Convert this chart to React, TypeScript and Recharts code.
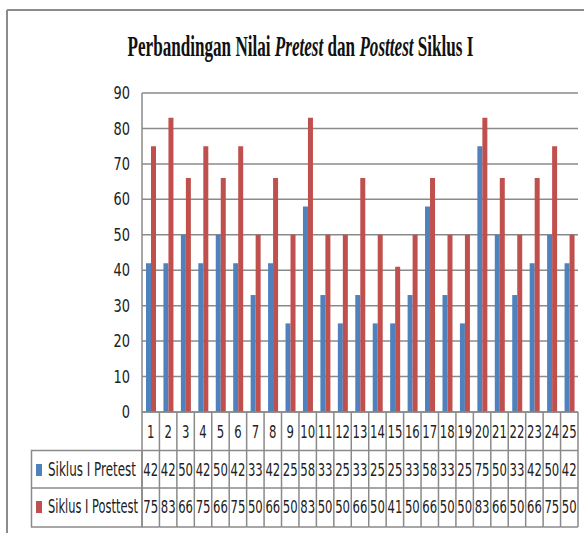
import * as React from "react";
import { BarChart, Bar, XAxis, YAxis, CartesianGrid } from "recharts";

// ----- Data -----
const categories: string[] = [
  "1", "2", "3", "4", "5", "6", "7", "8", "9", "10", "11", "12", "13",
  "14", "15", "16", "17", "18", "19", "20", "21", "22", "23", "24", "25",
];
const pretest: number[] = [42, 42, 50, 42, 50, 42, 33, 42, 25, 58, 33, 25, 33, 25, 25, 33, 58, 33, 25, 75, 50, 33, 42, 50, 42];
const posttest: number[] = [75, 83, 66, 75, 66, 75, 50, 66, 50, 83, 50, 50, 66, 50, 41, 50, 66, 50, 50, 83, 66, 50, 66, 75, 50];
const yTicks: number[] = [0, 10, 20, 30, 40, 50, 60, 70, 80, 90];
const seriesNames: string[] = ["Siklus I Pretest", "Siklus I Posttest"];

const chartData = categories.map((c, i) => ({ name: c, pretest: pretest[i], posttest: posttest[i] }));

// ----- Layout -----
const W = 584;
const H = 533;
const PLOT_LEFT = 142;
const PLOT_RIGHT = 578;
const PLOT_TOP = 93;
const PLOT_BOTTOM = 412;
const BAND = (PLOT_RIGHT - PLOT_LEFT) / categories.length;
const GRID = "#8a8a8a";
const FONT = "'Liberation Sans Narrow', 'DejaVu Sans Condensed', sans-serif";
const BLUE = "#4f81bd";
const RED = "#c0504d";

// table rows relative to the axis line
const ROW_LINES = [38.5, 76, 115];
const ROW_TEXT = [20, 58, 95];

// narrow, tall text like the original's Calibri
function NarrowText({ x, y, sx, anchor, size, children }: any) {
  return (
    <text
      transform={`translate(${x},${y}) scale(${sx},1)`}
      x={0}
      y={0}
      textAnchor={anchor}
      dominantBaseline="central"
      fontFamily={FONT}
      fontSize={size}
      fill="#222"
    >
      {children}
    </text>
  );
}

function YTick(props: any) {
  const { x, y, payload } = props;
  return (
    <NarrowText x={x} y={y} sx={0.8} anchor="end" size={18}>
      {payload.value}
    </NarrowText>
  );
}

function TableTick(props: any) {
  const { x, y, payload } = props;
  const i: number = payload?.index ?? props.index ?? 0;
  const l = x - BAND / 2;
  const r = x + BAND / 2;
  const vals = [categories[i], String(pretest[i]), String(posttest[i])];
  return (
    <g>
      {i === 0 && <line x1={l} x2={l} y1={y} y2={y + ROW_LINES[2]} stroke={GRID} strokeWidth={1.5} />}
      <line x1={r} x2={r} y1={y} y2={y + ROW_LINES[2]} stroke={GRID} strokeWidth={1.5} />
      {ROW_LINES.map((d) => (
        <line key={d} x1={l} x2={r} y1={y + d} y2={y + d} stroke={GRID} strokeWidth={1.5} />
      ))}
      {vals.map((v, k) => (
        <NarrowText key={k} x={x} y={y + ROW_TEXT[k]} sx={0.72} anchor="middle" size={18}>
          {v}
        </NarrowText>
      ))}
    </g>
  );
}

export default function App() {
  const labelTop = PLOT_BOTTOM + ROW_LINES[0];
  return (
    <div style={{ position: "absolute", left: 0, top: 0, width: W, height: H, background: "#fff" }}>
      <BarChart
        width={W}
        height={H}
        data={chartData}
        margin={{ top: PLOT_TOP, right: W - PLOT_RIGHT, left: PLOT_LEFT - 40, bottom: 0 }}
        barGap={0}
      >
        <CartesianGrid vertical={false} stroke={GRID} strokeWidth={1.5} />
        <XAxis
          dataKey="name"
          interval={0}
          height={H - PLOT_BOTTOM}
          tickLine={false}
          tickSize={0}
          tickMargin={0}
          axisLine={{ stroke: GRID, strokeWidth: 1.5 }}
          tick={<TableTick />}
        />
        <YAxis
          width={40}
          domain={[0, 90]}
          ticks={yTicks}
          tickLine={false}
          tickSize={0}
          tickMargin={12}
          axisLine={{ stroke: GRID, strokeWidth: 1.5 }}
          tick={<YTick />}
        />
        <Bar dataKey="pretest" name={seriesNames[0]} fill={BLUE} barSize={5} isAnimationActive={false} />
        <Bar dataKey="posttest" name={seriesNames[1]} fill={RED} barSize={5} isAnimationActive={false} />
      </BarChart>

      <svg width={W} height={H} style={{ position: "absolute", left: 0, top: 0, pointerEvents: "none" }}>
        {/* frame */}
        <line x1={7} x2={W} y1={10} y2={10} stroke="#8c8c8c" strokeWidth={2} />
        <line x1={7} x2={7} y1={10} y2={H} stroke="#8c8c8c" strokeWidth={2} />
        {/* title */}
        <text
          transform="translate(300.5,56) scale(0.59,1)"
          x={0}
          y={0}
          textAnchor="middle"
          fontFamily="'Liberation Serif', serif"
          fontWeight="bold"
          fontSize={29}
          fill="#111"
        >
          Perbandingan Nilai <tspan fontStyle="italic">Pretest</tspan> dan <tspan fontStyle="italic">Posttest</tspan> Siklus I
        </text>
        {/* legend column of the data table */}
        <rect x={31.5} y={labelTop} width={PLOT_LEFT - 31.5} height={ROW_LINES[2] - ROW_LINES[0]} fill="none" stroke={GRID} strokeWidth={1.5} />
        <line x1={31.5} x2={PLOT_LEFT} y1={PLOT_BOTTOM + ROW_LINES[1]} y2={PLOT_BOTTOM + ROW_LINES[1]} stroke={GRID} strokeWidth={1.5} />
        {seriesNames.map((n, k) => {
          const cy = PLOT_BOTTOM + ROW_TEXT[k + 1];
          return (
            <g key={n}>
              <rect x={36} y={cy - 6} width={6} height={12} fill={k === 0 ? BLUE : RED} />
              <NarrowText x={48} y={cy} sx={k === 0 ? 0.7 : 0.67} anchor="start" size={19}>
                {n}
              </NarrowText>
            </g>
          );
        })}
      </svg>
    </div>
  );
}
